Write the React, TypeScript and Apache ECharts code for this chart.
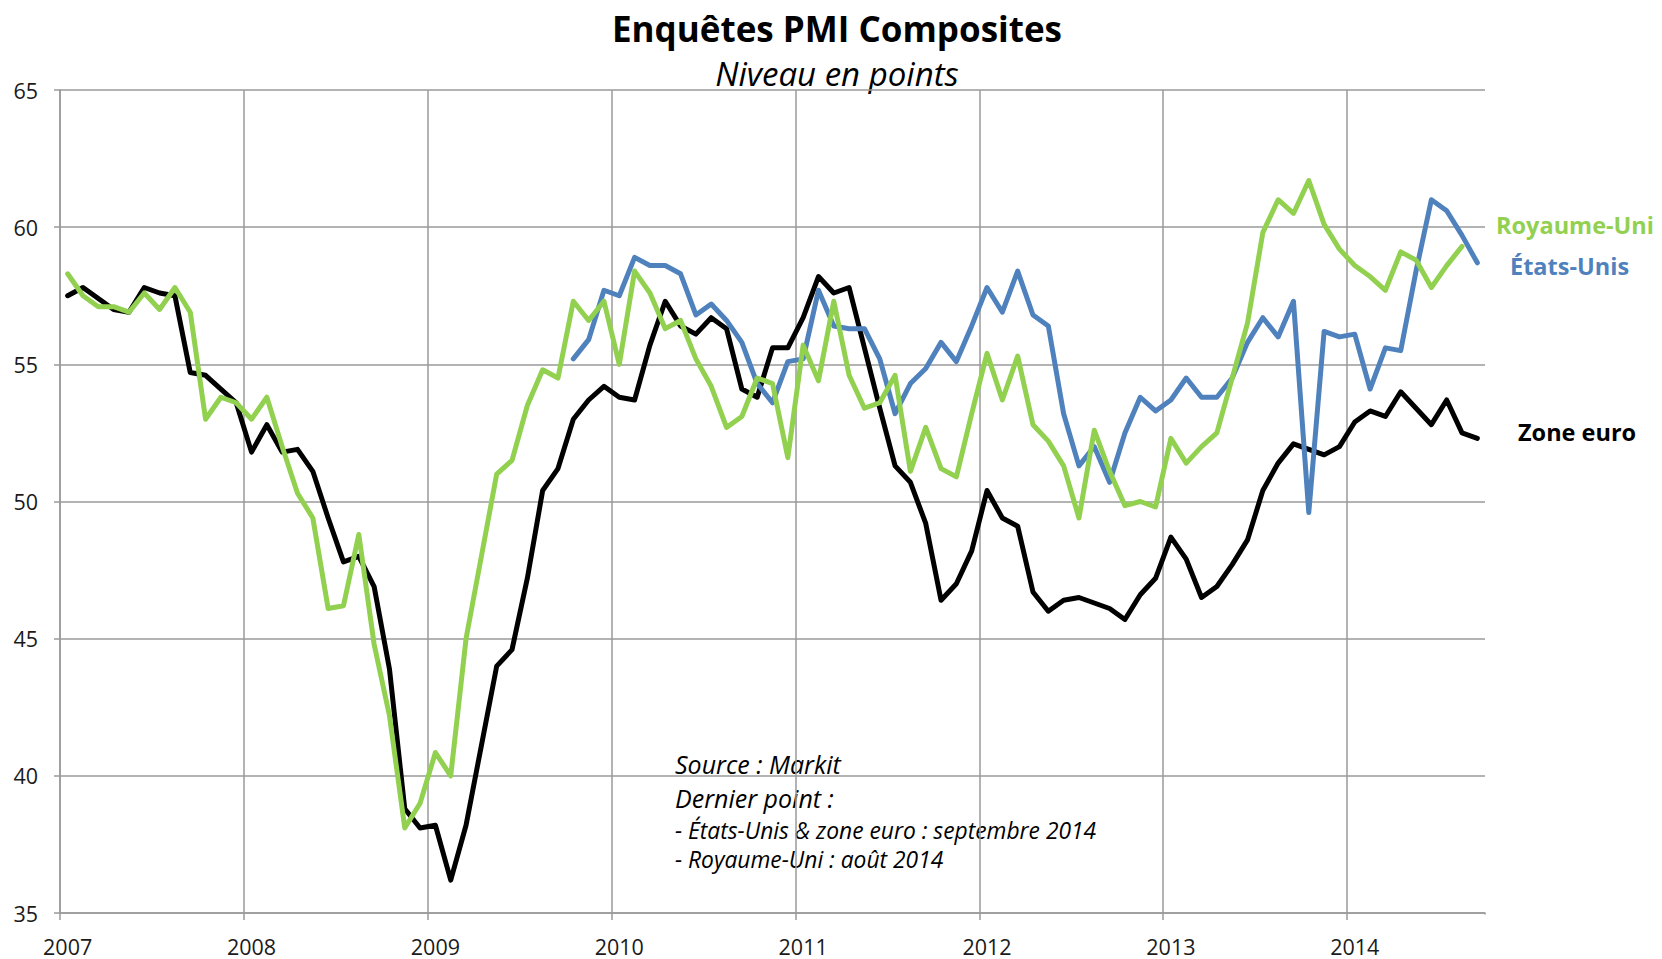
import { useEffect, useRef } from 'react';
import * as echarts from 'echarts';

// ---- Data ----
const years = ['2007', '2008', '2009', '2010', '2011', '2012', '2013', '2014'];
const monthCount = 93; // Jan 2007 .. Sep 2014

const zoneEuro = [
  57.5, 57.8, 57.4, 57.0, 56.9, 57.8, 57.6, 57.5, 54.7, 54.6, 54.1, 53.6,
  51.8, 52.8, 51.8, 51.9, 51.1, 49.4, 47.8, 48.0, 46.9, 43.9, 38.8, 38.1,
  38.2, 36.2, 38.2, 41.1, 44.0, 44.6, 47.2, 50.4, 51.2, 53.0, 53.7, 54.2,
  53.8, 53.7, 55.7, 57.3, 56.4, 56.1, 56.7, 56.3, 54.1, 53.8, 55.6, 55.6,
  56.7, 58.2, 57.6, 57.8, 55.6, 53.4, 51.3, 50.7, 49.2, 46.4, 47.0, 48.2,
  50.4, 49.4, 49.1, 46.7, 46.0, 46.4, 46.5, 46.3, 46.1, 45.7, 46.6, 47.2,
  48.7, 47.9, 46.5, 46.9, 47.7, 48.6, 50.4, 51.4, 52.1, 51.9, 51.7, 52.0,
  52.9, 53.3, 53.1, 54.0, 53.4, 52.8, 53.7, 52.5, 52.3,
];

// États-Unis: from October 2009
const etatsUnisStart = '2009-10';
const etatsUnis = [
  55.2, 55.9, 57.7,
  57.5, 58.9, 58.6, 58.6, 58.3, 56.8, 57.2, 56.6, 55.8, 54.3, 53.6, 55.1,
  55.2, 57.7, 56.4, 56.3, 56.3, 55.2, 53.2, 54.3, 54.85, 55.8, 55.1, 56.4,
  57.8, 56.9, 58.4, 56.8, 56.4, 53.2, 51.3, 52.0, 50.7, 52.5, 53.8, 53.3,
  53.7, 54.5, 53.8, 53.8, 54.5, 55.8, 56.7, 56.0, 57.3, 49.6, 56.2, 56.0,
  56.1, 54.1, 55.6, 55.5, 58.4, 61.0, 60.6, 59.7, 58.7,
];

// Royaume-Uni: Jan 2007 .. Aug 2014
const royaumeUni = [
  58.3, 57.5, 57.1, 57.1, 56.9, 57.6, 57.0, 57.8, 56.9, 53.0, 53.8, 53.6,
  53.0, 53.8, 52.0, 50.3, 49.4, 46.1, 46.2, 48.8, 44.8, 42.2, 38.1, 39.0,
  40.85, 40.0, 45.0, 48.0, 51.0, 51.5, 53.5, 54.8, 54.5, 57.3, 56.6, 57.3,
  55.0, 58.4, 57.6, 56.3, 56.6, 55.2, 54.2, 52.7, 53.1, 54.5, 54.3, 51.6,
  55.7, 54.4, 57.3, 54.6, 53.4, 53.6, 54.6, 51.1, 52.7, 51.2, 50.9, 53.2,
  55.4, 53.7, 55.3, 52.8, 52.2, 51.3, 49.4, 52.6, 51.1, 49.85, 50.0, 49.8,
  52.3, 51.4, 52.0, 52.5, 54.5, 56.5, 59.8, 61.0, 60.5, 61.7, 60.1, 59.2,
  58.6, 58.2, 57.7, 59.1, 58.8, 57.8, 58.6, 59.3,
];

const yMin = 35;
const yMax = 65;
const yStep = 5;

const titleText = 'Enquêtes PMI Composites';
const subtitleText = 'Niveau en points';
const noteLines = [
  'Source : Markit',
  'Dernier point :',
  '- États-Unis & zone euro : septembre 2014',
  '- Royaume-Uni : août 2014',
];

// ---- Build categories ----
const months: string[] = [];
years.forEach((y) => {
  for (let m = 1; m <= 12; m++) {
    if (months.length < monthCount) months.push(`${y}-${m < 10 ? '0' + m : m}`);
  }
});

const pad = (values: number[], startIdx: number) => {
  const out: (number | null)[] = [];
  for (let i = 0; i < months.length; i++) {
    const k = i - startIdx;
    out.push(k >= 0 && k < values.length ? values[k] : null);
  }
  return out;
};

const GREEN = '#92D050';
const BLUE = '#4F81BD';
const BLACK = '#000000';
const GRID = '#9a9a9a';
const FONT = '"Open Sans", "Noto Sans", sans-serif';

export default function App() {
  const ref = useRef<HTMLDivElement>(null);
  useEffect(() => {
    if (!ref.current) return;
    const chart = echarts.init(ref.current, null, { renderer: 'svg' });
    const usIdx = months.indexOf(etatsUnisStart);
    const isYear = (i: number) => i % 12 === 0;
    const lineSeries = (name: string, data: (number | null)[], color: string) => ({
      name,
      type: 'line',
      data,
      symbol: 'none',
      smooth: false,
      connectNulls: false,
      lineStyle: { color, width: 5, join: 'round', cap: 'round' },
      itemStyle: { color },
      emphasis: { disabled: true },
      z: 3,
    });
    const note = (text: string, y: number, size: number) => ({
      type: 'text',
      x: 675,
      y,
      style: { text, font: `italic ${size}px ${FONT}`, fill: '#000', verticalAlign: 'middle', lineHeight: size },
    });
    chart.setOption({
      animation: false,
      backgroundColor: '#ffffff',
      textStyle: { fontFamily: FONT },
      grid: { left: 60, right: 177, top: 90, bottom: 46, containLabel: false },
      xAxis: {
        type: 'category',
        data: months,
        boundaryGap: true,
        axisLine: { show: true, lineStyle: { color: GRID, width: 1.5 } },
        axisTick: {
          show: true,
          interval: (i: number) => isYear(i),
          length: 7,
          lineStyle: { color: GRID, width: 1.5 },
        },
        splitLine: {
          show: true,
          interval: (i: number) => isYear(i),
          showMaxLine: false,
          lineStyle: { color: GRID, width: 1.5 },
        },
        axisLabel: {
          interval: (i: number) => isYear(i),
          formatter: (v: string) => v.slice(0, 4),
          color: '#1a1a1a',
          fontSize: 21.5,
          fontFamily: FONT,
          margin: 22,
        },
      },
      yAxis: {
        type: 'value',
        min: yMin,
        max: yMax,
        interval: yStep,
        axisLine: { show: true, lineStyle: { color: GRID, width: 1.5 } },
        axisTick: { show: true, length: 6, lineStyle: { color: GRID, width: 1.5 } },
        splitLine: { show: true, lineStyle: { color: GRID, width: 1.5 } },
        axisLabel: { color: '#1a1a1a', fontSize: 21.5, fontFamily: FONT, margin: 22 },
      },
      series: [
        lineSeries('Zone euro', pad(zoneEuro, 0), BLACK),
        lineSeries('États-Unis', pad(etatsUnis, usIdx), BLUE),
        lineSeries('Royaume-Uni', pad(royaumeUni, 0), GREEN),
      ],
      graphic: [
        {
          type: 'text',
          x: 837,
          y: 28,
          style: { text: titleText, font: `bold 35px ${FONT}`, fill: '#000', align: 'center', verticalAlign: 'middle' },
        },
        {
          type: 'text',
          x: 837,
          y: 73,
          style: { text: subtitleText, font: `italic 33px ${FONT}`, fill: '#000', align: 'center', verticalAlign: 'middle' },
        },
        {
          type: 'rect',
          z: 10,
          shape: { x: 1482, y: 914.5, width: 8, height: 9 },
          style: { fill: '#ffffff' },
        },
        {
          type: 'group',
          z: 10,
          children: [
            { type: 'rect', shape: { x: 657, y: 738, width: 480, height: 149 }, style: { fill: '#ffffff' } },
            note(noteLines[0], 764, 25),
            note(noteLines[1], 798, 25),
            note(noteLines[2], 830, 22.8),
            note(noteLines[3], 859, 22.8),
          ],
        },
        {
          type: 'text',
          x: 1496,
          y: 225,
          style: { text: 'Royaume-Uni', font: `bold 23.5px ${FONT}`, fill: GREEN, verticalAlign: 'middle' },
        },
        {
          type: 'text',
          x: 1510,
          y: 266,
          style: { text: 'États-Unis', font: `bold 23.5px ${FONT}`, fill: BLUE, verticalAlign: 'middle' },
        },
        {
          type: 'text',
          x: 1518,
          y: 432,
          style: { text: 'Zone euro', font: `bold 23.5px ${FONT}`, fill: BLACK, verticalAlign: 'middle' },
        },
      ],
    });
    return () => chart.dispose();
  }, []);
  return <div ref={ref} style={{ position: 'absolute', left: 0, top: 0, width: 1662, height: 959 }} />;
}
